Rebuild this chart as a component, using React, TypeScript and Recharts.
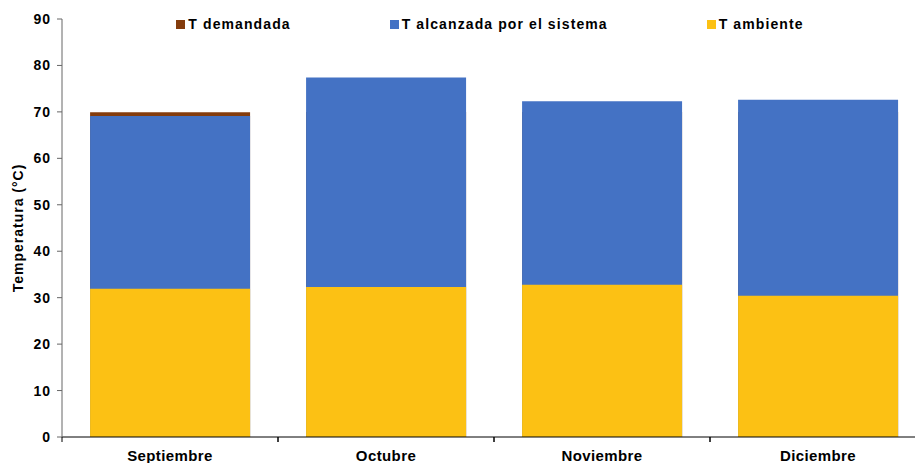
import React from "react";
import { BarChart, Bar, XAxis, YAxis, Legend, Label } from "recharts";

if (typeof document !== "undefined") {
  document.body.style.margin = "0";
}

const months = ["Septiembre", "Octubre", "Noviembre", "Diciembre"];
const tDemandada = [69.9, 70, 70, 70];
const tAlcanzada = [69.1, 77.4, 72.3, 72.6];
const tAmbiente = [31.9, 32.3, 32.8, 30.4];
const yTicks = [0, 10, 20, 30, 40, 50, 60, 70, 80, 90];

const seriesInfo = [
  { key: "demandada", name: "T demandada", color: "#843C0C" },
  { key: "alcanzada", name: "T alcanzada por el sistema", color: "#4472C4" },
  { key: "ambiente", name: "T ambiente", color: "#FCC114" },
];

const data = months.map((m, i) => ({
  month: m,
  demandada: tDemandada[i],
  alcanzada: tAlcanzada[i],
  ambiente: tAmbiente[i],
}));

const FONT = "'Liberation Sans', Arial, sans-serif";
const TICK_SIZE = 5;
const TICK_MARGIN = 2;

const XTick = (props: any) => {
  const { x, y, payload } = props;
  const off = payload && payload.offset ? payload.offset : 0;
  const axisY = y - TICK_SIZE - TICK_MARGIN;
  return (
    <g>
      <line x1={x - off} x2={x - off} y1={axisY} y2={axisY + TICK_SIZE} stroke="#000" strokeWidth={1} />
      <line x1={x + off} x2={x + off} y1={axisY} y2={axisY + TICK_SIZE} stroke="#000" strokeWidth={1} />
      <text
        x={x}
        y={y + 17}
        textAnchor="middle"
        fontFamily={FONT}
        fontWeight="bold"
        fontSize={15}
        letterSpacing={0.4}
        fill="#000"
      >
        {payload.value}
      </text>
    </g>
  );
};

const LegendContent = () => (
  <div
    style={{
      display: "flex",
      justifyContent: "center",
      gap: 99,
      fontFamily: FONT,
      fontWeight: "bold",
      fontSize: 14,
      letterSpacing: 1.1,
      color: "#000",
      lineHeight: "16px",
    }}
  >
    {seriesInfo.map((s) => (
      <div key={s.key} style={{ display: "flex", alignItems: "center" }}>
        <span style={{ display: "inline-block", width: 9, height: 9, background: s.color, marginRight: 3 }} />
        <span>{s.name}</span>
      </div>
    ))}
  </div>
);

export default function App() {
  return (
    <div style={{ width: 915, height: 463, background: "#fff", overflow: "hidden" }}>
      <BarChart
        width={926}
        height={463}
        data={data}
        margin={{ top: 19, right: 0, bottom: 0, left: 0 }}
        barCategoryGap="13%"
      >
        <XAxis
          xAxisId={0}
          dataKey="month"
          height={26}
          stroke="#000"
          tickLine={false}
          tickSize={TICK_SIZE}
          tickMargin={TICK_MARGIN}
          tick={<XTick />}
          interval={0}
        />
        <XAxis xAxisId={1} dataKey="month" hide />
        <XAxis xAxisId={2} dataKey="month" hide />
        <YAxis
          width={62}
          domain={[0, 90]}
          ticks={yTicks}
          interval={0}
          stroke="#666"
          tickSize={5}
          tickMargin={6}
          tick={{ fill: "#000", fontFamily: FONT, fontWeight: "bold", fontSize: 14, letterSpacing: 1 }}
        >
          <Label
            value="Temperatura (°C)"
            angle={-90}
            position="insideLeft"
            offset={0}
            dx={18}
            style={{ fontFamily: FONT, fontWeight: "bold", fontSize: 14, letterSpacing: 1, fill: "#000", textAnchor: "middle" }}
          />
        </YAxis>
        <Legend
          verticalAlign="middle"
          align="center"
          content={<LegendContent />}
          wrapperStyle={{ top: 16, left: 62, width: 856 }}
        />
        <Bar xAxisId={0} dataKey="demandada" name="T demandada" fill="#843C0C" isAnimationActive={false} />
        <Bar xAxisId={1} dataKey="alcanzada" name="T alcanzada por el sistema" fill="#4472C4" isAnimationActive={false} />
        <Bar xAxisId={2} dataKey="ambiente" name="T ambiente" fill="#FCC114" isAnimationActive={false} />
      </BarChart>
    </div>
  );
}
